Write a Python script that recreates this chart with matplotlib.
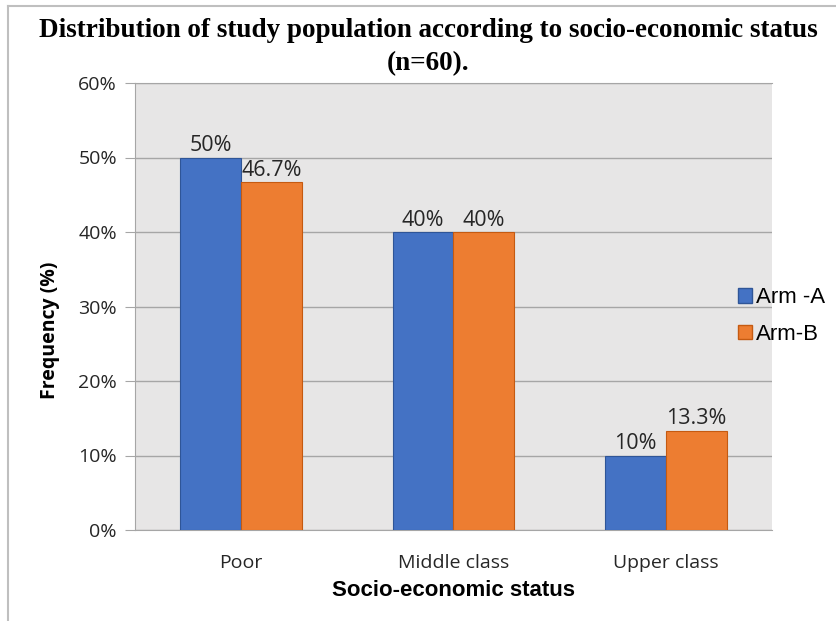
import matplotlib
matplotlib.use("Agg")
import matplotlib.pyplot as plt
import numpy as np
from matplotlib.lines import Line2D
from matplotlib.patches import Patch

# data
categories = ["Poor", "Middle class", "Upper class"]
arm_a = [50, 40, 10]
arm_b = [46.7, 40, 13.3]
labels_a = ["50%", "40%", "10%"]
labels_b = ["46.7%", "40%", "13.3%"]
yticks = [0, 10, 20, 30, 40, 50, 60]

blue = "#4472C4"
orange = "#ED7D31"
grid_col = "#a6a6a6"

fig = plt.figure(figsize=(8.37, 6.21), dpi=100)
ax = fig.add_axes([135 / 837, 1 - 530 / 621, 637 / 837, 447 / 621])
ax.set_facecolor("#e7e6e6")

x = np.arange(len(categories))
w = 0.286
ba = ax.bar(x - w / 2, arm_a, w, color=blue, edgecolor="#2f5597", linewidth=0.8, zorder=3)
bb = ax.bar(x + w / 2, arm_b, w, color=orange, edgecolor="#c55a11", linewidth=0.8, zorder=3)

for bars, labs in ((ba, labels_a), (bb, labels_b)):
    for r, t in zip(bars, labs):
        ax.text(r.get_x() + r.get_width() / 2, r.get_height() + 0.2, t,
                ha="center", va="bottom", fontsize=15.5, family="Open Sans", color="#262626")

ax.set_xlim(-0.5, 2.5)
ax.set_ylim(0, 60)
ax.set_yticks(yticks)
ax.set_yticklabels([f"{v}%" for v in yticks], fontsize=14, family="Open Sans", color="#262626")
ax.set_xticks(x)
ax.set_xticklabels(categories, fontsize=14, family="Open Sans", color="#262626")
ax.tick_params(axis="x", length=0, pad=17)
ax.tick_params(axis="y", length=7, color=grid_col, pad=6)
ax.grid(axis="y", color=grid_col, linewidth=1, zorder=0)
ax.spines["right"].set_visible(False)
for s in ("left", "bottom", "top"):
    ax.spines[s].set_color(grid_col)

ax.set_xlabel("Socio-economic status", fontsize=16, fontweight="bold",
              family="Liberation Sans", labelpad=6)
ax.set_ylabel("Frequency (%)", fontsize=14, fontweight="bold", family="Open Sans")
ax.yaxis.set_label_coords((60 - 135) / 637, (530 - 330) / 447)

fig.text(428 / 837, 1 - 47 / 621,
         "Distribution of study population according to socio-economic status\n(n=60).",
         ha="center", va="center", fontsize=19.5, fontweight="bold",
         family="Liberation Serif", linespacing=1.4)

handles = [Patch(facecolor=blue, edgecolor="#2f5597"), Patch(facecolor=orange, edgecolor="#c55a11")]
fig.legend(handles, ["Arm -A", "Arm-B"], loc="center left",
           bbox_to_anchor=(718 / 837, 1 - 316 / 621), frameon=False,
           prop={"family": "Liberation Sans", "size": 16},
           handlelength=0.65, handleheight=0.65, handletextpad=0.15, labelspacing=0.7)

# outer frame (left and top visible)
fig.add_artist(Line2D([8 / 837, 8 / 837], [0, 1 - 6 / 621], transform=fig.transFigure,
                      color="#bfbfbf", linewidth=1.5))
fig.add_artist(Line2D([8 / 837, 1], [1 - 6 / 621, 1 - 6 / 621], transform=fig.transFigure,
                      color="#bfbfbf", linewidth=1.5))

fig.savefig("out.png", dpi=100)
